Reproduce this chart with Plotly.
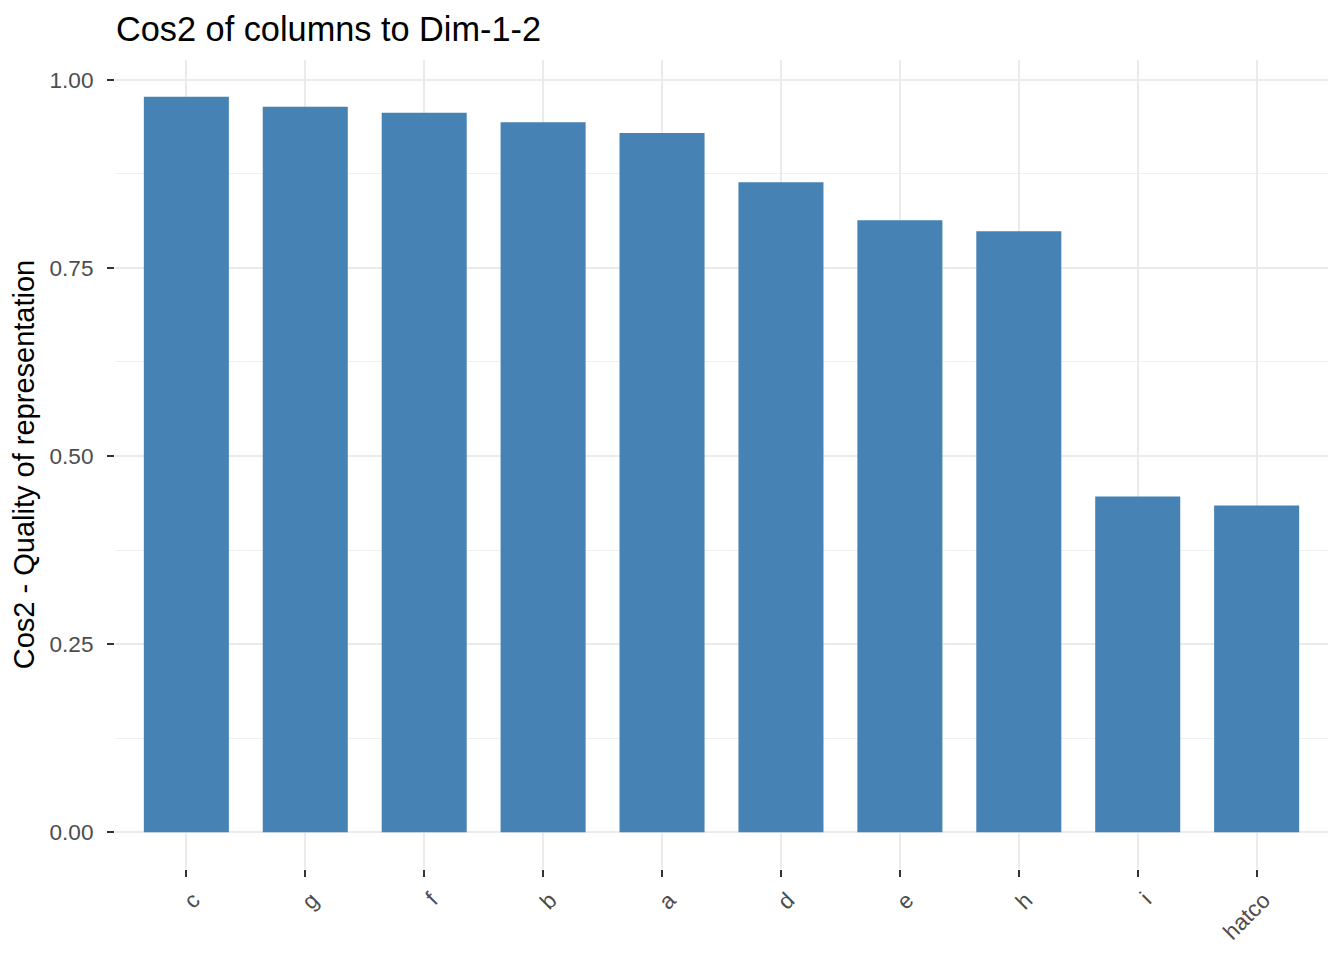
import plotly.graph_objects as go

categories = ["c", "g", "f", "b", "a", "d", "e", "h", "i", "hatco"]
cos2_values = [0.9774, 0.9641, 0.9561, 0.9437, 0.9291, 0.8639, 0.8133, 0.7987, 0.4462, 0.4342]
y_tick_vals = [0.0, 0.25, 0.5, 0.75, 1.0]
y_tick_text = ["0.00", "0.25", "0.50", "0.75", "1.00"]

FONT = "Liberation Sans, Arial, sans-serif"
ymax = max(cos2_values)

# page body has an 8px margin; figure is sized so it fits the 1344x960 view
W, H = 1328, 944

fig = go.Figure(
    go.Bar(
        x=categories,
        y=cos2_values,
        width=0.715,
        marker=dict(color="#4682B4", line=dict(width=0)),
    )
)

fig.update_layout(
    width=W,
    height=H,
    paper_bgcolor="white",
    plot_bgcolor="white",
    margin=dict(l=107, r=8, t=52, b=83, autoexpand=False),
    showlegend=False,
    font=dict(family=FONT, color="#4D4D4D"),
    title=dict(
        text="Cos2 of columns to Dim-1-2",
        x=108 / W,
        xref="container",
        xanchor="left",
        y=1 - 21 / H,
        yref="container",
        yanchor="middle",
        font=dict(family=FONT, size=34.3, color="black"),
    ),
    xaxis=dict(
        type="category",
        range=[-0.6, len(categories) - 0.4],
        showgrid=True,
        gridcolor="#EBEBEB",
        gridwidth=2,
        showline=False,
        zeroline=False,
        ticks="outside",
        ticklen=7,
        tickwidth=2,
        tickcolor="#333333",
        tickangle=-45,
        ticklabelshift=7,
        ticklabelstandoff=1,
        tickfont=dict(family=FONT, size=22.6, color="#4D4D4D"),
        automargin=False,
    ),
    yaxis=dict(
        range=[-0.05 * ymax, 1.05 * ymax],
        tickmode="array",
        tickvals=y_tick_vals,
        ticktext=y_tick_text,
        showgrid=True,
        gridcolor="#EBEBEB",
        gridwidth=2,
        zeroline=False,
        showline=False,
        ticks="outside",
        ticklen=7,
        tickwidth=2,
        tickcolor="#333333",
        ticklabelstandoff=9,
        tickfont=dict(family=FONT, size=22.6, color="#4D4D4D"),
        minor=dict(
            tickmode="array",
            tickvals=[0.125, 0.375, 0.625, 0.875],
            showgrid=True,
            gridcolor="#F0F0F0",
            gridwidth=1,
            ticks="",
        ),
        title=dict(
            text="Cos2 - Quality of representation",
            font=dict(family=FONT, size=29, color="black"),
            standoff=6,
        ),
        automargin=False,
    ),
)

fig.write_html("out.html")
